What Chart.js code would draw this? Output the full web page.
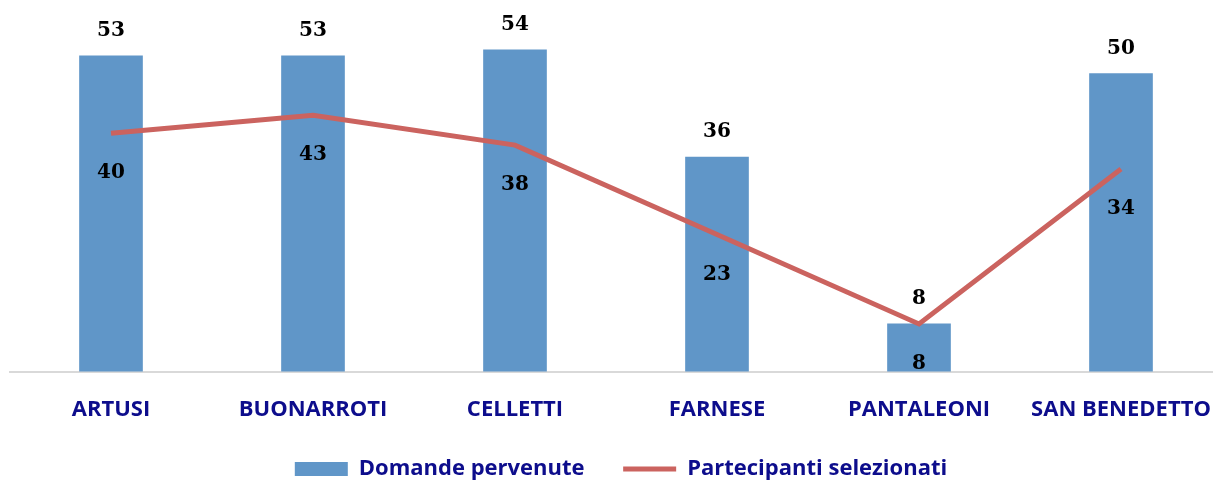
<!DOCTYPE html>
<html>
<head>
<meta charset="utf-8">
<script src="https://cdn.jsdelivr.net/npm/chart.js@4/dist/chart.umd.min.js"></script>
<style>
  html, body { margin: 0; padding: 0; background: #fff; overflow: hidden; }
  canvas { display: block; }
</style>
</head>
<body>
<canvas id="chart" width="1254" height="481"></canvas>
<script>
const categories = ["ARTUSI", "BUONARROTI", "CELLETTI", "FARNESE", "PANTALEONI", "SAN BENEDETTO"];
const domandePervenute = [53, 53, 54, 36, 8, 50];
const partecipantiSelezionati = [40, 43, 38, 23, 8, 34];

const blue = "#6096C8";
const red = "#CB635F";
const navy = "#0D0D8C";

Chart.defaults.font.family = "'Open Sans', sans-serif";

// value labels: bars above the top, line below the point
const valueLabels = {
    id: "valueLabels",
    afterDatasetsDraw(chart) {
        const ctx = chart.ctx;
        ctx.save();
        ctx.font = "bold 20px 'DejaVu Serif'";
        ctx.fillStyle = "#000";
        ctx.textAlign = "center";
        ctx.textBaseline = "alphabetic";
        chart.data.datasets.forEach((ds, i) => {
            const meta = chart.getDatasetMeta(i);
            meta.data.forEach((el, j) => {
                const y = ds.type === "line" ? el.y + 45 : el.y - 20;
                ctx.fillText(String(ds.data[j]), el.x, y);
            });
        });
        ctx.restore();
    }
};

new Chart(document.getElementById("chart"), {
    data: {
        labels: categories,
        datasets: [
            {
                type: "line",
                label: "Partecipanti selezionati",
                data: partecipantiSelezionati,
                borderColor: red,
                backgroundColor: red,
                borderWidth: 5,
                pointRadius: 0,
                tension: 0,
                order: 0
            },
            {
                type: "bar",
                label: "Domande pervenute",
                data: domandePervenute,
                backgroundColor: blue,
                barThickness: 63,
                order: 1
            }
        ]
    },
    options: {
        responsive: false,
        animation: false,
        devicePixelRatio: 1,
        layout: {
            padding: { left: 10, right: 22, top: 14, bottom: -9 }
        },
        scales: {
            x: {
                grid: { display: false, drawTicks: false },
                border: { color: "#D9D9D9", width: 2 },
                ticks: {
                    color: navy,
                    font: { size: 22, weight: "bold" },
                    padding: 25,
                    autoSkip: false,
                    maxRotation: 0
                }
            },
            y: {
                position: "right",
                min: 0,
                max: 60,
                grid: { display: false, drawTicks: false },
                border: { display: false },
                ticks: { display: false },
                afterFit: function(scale) {
                    scale.width = 10;
                }
            }
        },
        plugins: {
            tooltip: { enabled: false },
            legend: {
                position: "bottom",
                reverse: true,
                labels: {
                    color: navy,
                    font: { size: 22, weight: "bold" },
                    usePointStyle: true,
                    pointStyleWidth: 53,
                    boxHeight: 14,
                    padding: 10,
                    generateLabels: function(chart) {
                        const items = Chart.defaults.plugins.legend.labels.generateLabels(chart);
                        items.forEach(item => {
                            if (item.text === "Domande pervenute") {
                                item.pointStyle = "rect";
                                item.lineWidth = 0;
                                item.text = item.text + "\u00a0\u00a0\u00a0\u00a0\u00a0";
                            } else {
                                item.pointStyle = "line";
                                item.lineWidth = 5;
                            }
                        });
                        return items;
                    }
                }
            }
        }
    },
    plugins: [valueLabels]
});
</script>
</body>
</html>
